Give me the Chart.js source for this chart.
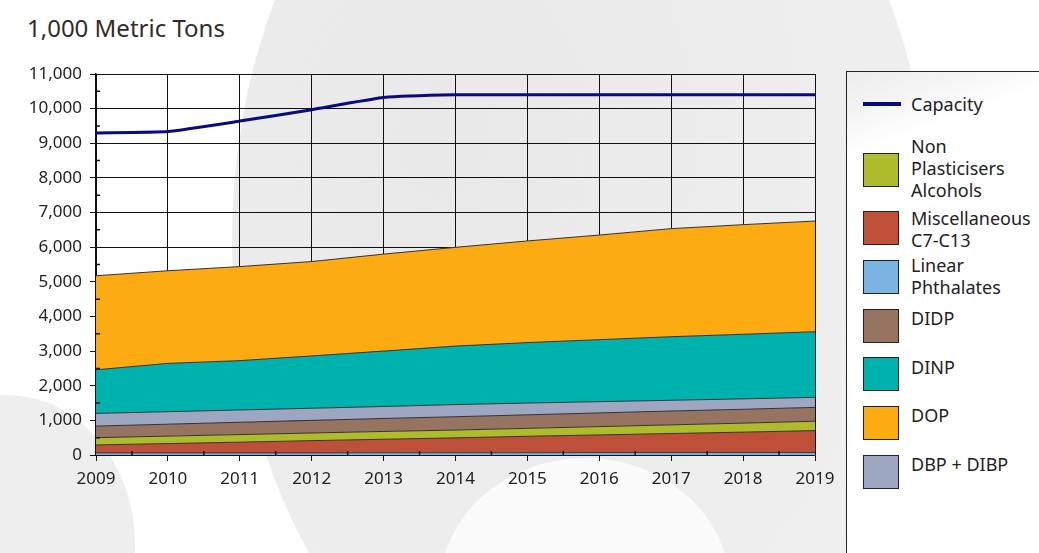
<!DOCTYPE html>
<html>
<head>
<meta charset="utf-8">
<script src="https://cdn.jsdelivr.net/npm/chart.js@4/dist/chart.umd.min.js"></script>
<style>
  html, body { margin: 0; padding: 0; background: #fff; }
  #wrap { position: relative; width: 1039px; height: 553px; overflow: hidden; font-family: "Noto Sans", sans-serif; }
  .wm { position: absolute; border-radius: 50%; }
  #title { position: absolute; left: 27px; top: 16px; font-size: 24px; line-height: 24px; color: #332b2b; }
  #chart { position: absolute; left: 0; top: 0; }
  #legend { position: absolute; left: 846px; top: 71px; width: 260px; height: 560px; border: 1.5px solid #222; box-sizing: border-box;
            background: linear-gradient(160deg, #ececec 0px, #f4f4f4 40px, #fff 80px); }
  .sw { position: absolute; left: 863px; width: 36px; height: 34px; border: 1.5px solid #222; box-sizing: border-box; }
  .lt { position: absolute; left: 911px; font-size: 18px; line-height: 22px; color: #222; white-space: nowrap; }
</style>
</head>
<body>
<div id="wrap">
  <div class="wm" style="left:232px;top:-260px;width:700px;height:1000px;background:radial-gradient(ellipse at 30% 40%, #e9e9e9 0%, #eeeeee 60%, #f1f1f1 100%);"></div>
  <div class="wm" style="left:440px;top:458px;width:290px;height:260px;background:#fbfbfb;"></div>
  <div class="wm" style="left:-120px;top:395px;width:255px;height:300px;background:#eeeeee;"></div>
  <div id="title">1,000 Metric Tons</div>
  <canvas id="chart" width="1039" height="553"></canvas>
  <div id="legend"></div>
  <div id="legendItems"></div>
</div>
<script>
// values, 1,000 metric tons
const years = ['2009', '2010', '2011', '2012', '2013', '2014', '2015', '2016', '2017', '2018', '2019'];
const capacity = [9300, 9340, 9640, 9970, 10320, 10400, 10400, 10400, 10400, 10400, 10400];
const linearPhthalates = [60, 60, 60, 60, 65, 65, 65, 70, 70, 70, 70];
const miscellaneous = [230, 270, 310, 355, 390, 430, 475, 510, 550, 590, 635];
const nonPlasticisers = [210, 215, 220, 220, 225, 225, 230, 240, 250, 260, 270];
const didp = [335, 345, 355, 365, 375, 385, 390, 395, 400, 400, 400];
const dbpDibp = [365, 360, 355, 350, 345, 350, 340, 325, 310, 300, 290];
const dinp = [1260, 1395, 1425, 1510, 1600, 1690, 1745, 1790, 1835, 1865, 1895];
const dop = [2715, 2675, 2715, 2725, 2800, 2850, 2935, 3020, 3120, 3165, 3195];
const yTicks = [0, 1000, 2000, 3000, 4000, 5000, 6000, 7000, 8000, 9000, 10000, 11000];

// stacked from the bottom up
const layers = [
    {label: 'Linear Phthalates', data: linearPhthalates, color: '#79b4e2'},
    {label: 'Miscellaneous C7-C13', data: miscellaneous, color: '#be4f38'},
    {label: 'Non Plasticisers Alcohols', data: nonPlasticisers, color: '#aebc2b'},
    {label: 'DIDP', data: didp, color: '#977361'},
    {label: 'DBP + DIBP', data: dbpDibp, color: '#9ea7c1'},
    {label: 'DINP', data: dinp, color: '#00b2ad'},
    {label: 'DOP', data: dop, color: '#fdab13'}
];

var datasets = layers.map(function (l, i) {
    return {
        label: l.label, data: l.data, stack: 'main',
        backgroundColor: l.color, borderColor: '#333', borderWidth: 1,
        fill: i === 0 ? 'origin' : '-1', pointRadius: 0, tension: 0
    };
});
datasets.push({
    label: 'Capacity', data: capacity, stack: 'cap', order: -1,
    borderColor: '#0a0a80', borderWidth: 3, fill: false, pointRadius: 0,
    tension: 0.15
});

// short minor ticks inside the axes, half way between the major ones
const minorTicks = {
    id: 'minorTicks',
    afterDatasetsDraw: function (chart) {
        var ctx = chart.ctx, x = chart.scales.x, y = chart.scales.y, a = chart.chartArea;
        ctx.save();
        ctx.strokeStyle = '#111';
        ctx.lineWidth = 1.5;
        ctx.beginPath();
        for (var i = 0; i < years.length - 1; i++) {
            var px = (x.getPixelForValue(i) + x.getPixelForValue(i + 1)) / 2;
            ctx.moveTo(px, a.bottom);
            ctx.lineTo(px, a.bottom - 4);
        }
        for (var j = 0; j < yTicks.length - 1; j++) {
            var py = y.getPixelForValue((yTicks[j] + yTicks[j + 1]) / 2);
            ctx.moveTo(a.left, py);
            ctx.lineTo(a.left + 4, py);
        }
        ctx.stroke();
        ctx.restore();
    }
};

new Chart(document.getElementById('chart').getContext('2d'), {
    type: 'line',
    data: {labels: years, datasets: datasets},
    options: {
        responsive: false,
        animation: false,
        layout: {padding: {left: 0, top: 74, right: 224, bottom: 0}},
        plugins: {legend: {display: false}, tooltip: {enabled: false}},
        scales: {
            x: {
                offset: false,
                grid: {color: '#111', lineWidth: 1, tickLength: 6, tickColor: '#111'},
                border: {color: '#111', width: 1.5},
                ticks: {color: '#222', padding: 8, maxRotation: 0, font: {family: 'Noto Sans', size: 17}},
                afterFit: function (s) { s.height = 98; }
            },
            y: {
                stacked: true, min: 0, max: 11000,
                grid: {color: '#111', lineWidth: 1, tickLength: 6, tickColor: '#111'},
                border: {color: '#111', width: 1.5},
                afterBuildTicks: function (s) { s.ticks = yTicks.map(function (v) { return {value: v}; }); },
                ticks: {
                    color: '#222', padding: 8, font: {family: 'Noto Sans', size: 17},
                    callback: function (v) { return v.toLocaleString('en-US'); }
                },
                afterFit: function (s) { s.width = 96; }
            }
        }
    },
    plugins: [minorTicks]
});

// legend, in the order of the original
const legendRows = [
    {lines: ['Non', 'Plasticisers', 'Alcohols'], color: '#aebc2b', box: 153, text: 135},
    {lines: ['Miscellaneous', 'C7-C13'], color: '#be4f38', box: 211, text: 207},
    {lines: ['Linear', 'Phthalates'], color: '#79b4e2', box: 260, text: 254},
    {lines: ['DIDP'], color: '#977361', box: 309, text: 307},
    {lines: ['DINP'], color: '#00b2ad', box: 357, text: 356},
    {lines: ['DOP'], color: '#fdab13', box: 406, text: 404},
    {lines: ['DBP + DIBP'], color: '#9ea7c1', box: 455, text: 453}
];
var html = '<div style="position:absolute;left:863px;top:102px;width:38px;height:4px;background:#0a0a80"></div>' +
    '<div class="lt" style="top:93px">Capacity</div>';
legendRows.forEach(function (r) {
    html += '<div class="sw" style="top:' + r.box + 'px;background:' + r.color + '"></div>';
    html += '<div class="lt" style="top:' + r.text + 'px">' + r.lines.join('<br>') + '</div>';
});
document.getElementById('legendItems').innerHTML = html;
</script>
</body>
</html>
